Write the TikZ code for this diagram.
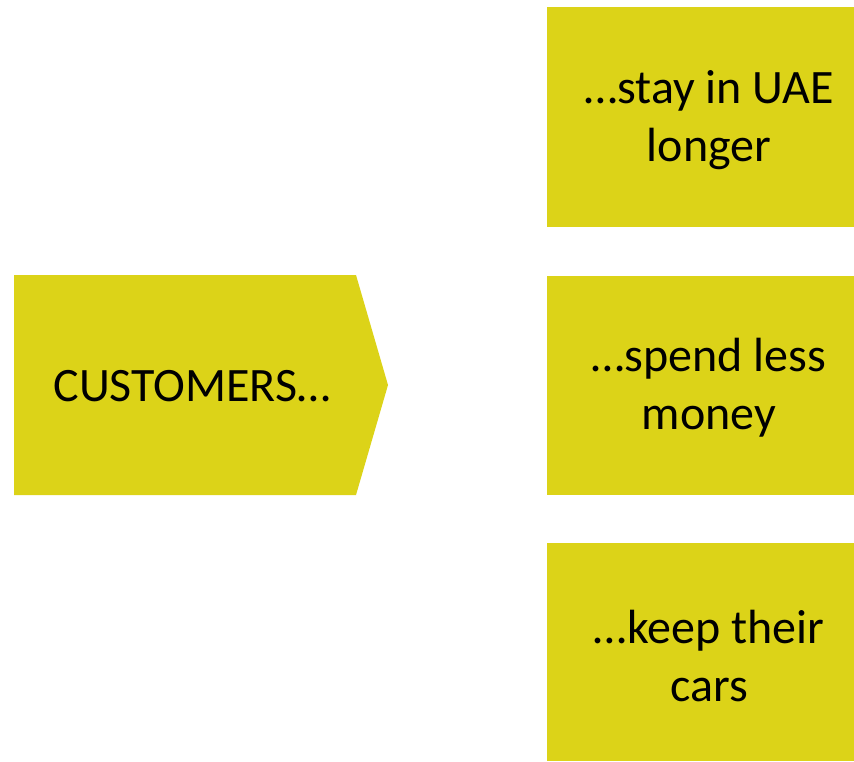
\documentclass[tikz,border=0pt]{standalone}
\usepackage{fontspec}
\setmainfont{Carlito}
\definecolor{boxyellow}{RGB}{220,211,24}
\begin{document}
\begin{tikzpicture}[x=1pt,y=-1pt,
  box/.style={fill=boxyellow},
  lbl/.style={align=center,font=\fontsize{48}{58}\selectfont,text=black,inner sep=0pt}]
\useasboundingbox (0,0) rectangle (854,761);
% left arrow shape
\fill[box] (14,275) -- (356,275) -- (388,385) -- (356,495) -- (14,495) -- cycle;
\node[lbl] (cust) at (192,386) {CUSTOMERS…};
% right boxes
\fill[box] (547,7) rectangle (854,227);
\fill[box] (547,276) rectangle (854,495);
\fill[box] (547,543) rectangle (854,761);
\node[lbl] (b1) at (709,120) {…stay in UAE\\longer};
\node[lbl] (b2) at (709,388) {…spend less\\money};
\node[lbl] (b3) at (709,656) {…keep their\\cars};
\end{tikzpicture}
\end{document}
